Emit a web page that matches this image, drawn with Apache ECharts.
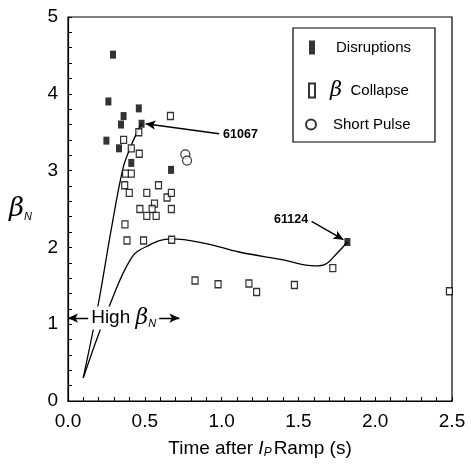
<!DOCTYPE html>
<html>
<head>
<meta charset="utf-8">
<script src="https://cdn.jsdelivr.net/npm/echarts@6/dist/echarts.min.js"></script>
<style>
html,body{margin:0;padding:0;background:#fff;}
#chart{width:471px;height:464px;}
</style>
</head>
<body>
<div id="chart"></div>
<script>
// ---- data ----
const disruptions = [
  [0.293, 4.51], [0.263, 3.90], [0.461, 3.81], [0.362, 3.71], [0.345, 3.60],
  [0.479, 3.61], [0.250, 3.39], [0.332, 3.29], [0.412, 3.10], [0.671, 3.01],
  [1.819, 2.07]
];
const collapse = [
  [0.667, 3.71], [0.461, 3.50], [0.362, 3.40], [0.412, 3.29], [0.464, 3.22],
  [0.375, 2.96], [0.412, 2.96], [0.369, 2.81], [0.399, 2.71], [0.513, 2.71],
  [0.589, 2.81], [0.645, 2.65], [0.673, 2.71], [0.468, 2.50], [0.563, 2.57],
  [0.548, 2.50], [0.513, 2.41], [0.574, 2.41], [0.673, 2.50], [0.371, 2.30],
  [0.384, 2.09], [0.492, 2.09], [0.675, 2.10], [0.827, 1.57], [0.977, 1.52],
  [1.178, 1.53], [1.228, 1.42], [1.474, 1.51], [1.724, 1.73], [2.483, 1.43]
];
const shortPulse = [[0.764, 3.21], [0.775, 3.13]];
const curveA = [
  [0.099, 0.30], [0.196, 1.25], [0.283, 2.25], [0.358, 3.03], [0.412, 3.33],
  [0.455, 3.52], [0.479, 3.61]
];
const curveB = [
  [0.099, 0.30], [0.272, 1.25], [0.412, 1.86], [0.509, 2.01], [0.671, 2.11],
  [0.898, 2.05], [1.113, 1.94], [1.394, 1.84], [1.61, 1.76], [1.674, 1.78],
  [1.75, 1.92], [1.819, 2.07]
];
const xTicks = [0, 0.5, 1.0, 1.5, 2.0, 2.5];
const yTicks = [0, 1, 2, 3, 4, 5];
// annotations: [label, start, end]
const arrow61067 = ['61067', [0.984, 3.48], [0.505, 3.61]];
const arrow61124 = ['61124', [1.586, 2.34], [1.793, 2.10]];
const highBetaSpan = [[0.0, 1.08], [0.725, 1.08]];

const FONT = '"Liberation Sans", Arial, Helvetica, sans-serif';
const chart = echarts.init(document.getElementById('chart'), null, {renderer: 'canvas'});

function arrowLine(a) {
  return [
    {coord: a[1], symbol: 'none',
     label: {show: true, formatter: a[0], position: 'start', distance: 4,
             color: '#000', fontSize: 12.5, fontWeight: 'bold', fontFamily: FONT}},
    {coord: a[2], symbol: 'arrow'}
  ];
}

const option = {
  backgroundColor: '#fff',
  animation: false,
  grid: {left: 68, right: 19, top: 17, bottom: 61, show: true,
         borderColor: '#000', borderWidth: 1.2, backgroundColor: 'transparent'},
  xAxis: {
    type: 'value', min: xTicks[0], max: xTicks[xTicks.length - 1], interval: 0.5,
    axisLine: {show: true, lineStyle: {color: '#000', width: 1.2}},
    axisTick: {show: true, inside: true, length: 4, lineStyle: {color: '#000'}},
    minorTick: {show: true, splitNumber: 5, length: 4, lineStyle: {color: '#000'}},
    splitLine: {show: false},
    axisLabel: {color: '#000', fontSize: 19, fontFamily: FONT, margin: 11,
                formatter: v => v.toFixed(1)},
    name: 'Time after {i|I}{p|P}Ramp (s)',
    nameLocation: 'middle', nameGap: 38,
    nameTextStyle: {color: '#000', fontSize: 19, fontFamily: FONT,
      rich: {
        i: {fontSize: 19, fontStyle: 'italic', fontFamily: FONT, color: '#000'},
        p: {fontSize: 12, fontStyle: 'italic', fontFamily: FONT, color: '#000',
            verticalAlign: 'bottom', padding: [8, 2, 0, 0]}
      }}
  },
  yAxis: {
    type: 'value', min: yTicks[0], max: yTicks[yTicks.length - 1], interval: 1,
    axisLine: {show: true, lineStyle: {color: '#000', width: 1.2}},
    axisTick: {show: true, inside: true, length: 4, lineStyle: {color: '#000'}},
    minorTick: {show: true, splitNumber: 5, length: 4, lineStyle: {color: '#000'}},
    splitLine: {show: false},
    axisLabel: {color: '#000', fontSize: 19, fontFamily: FONT, margin: 10},
    name: '{b|β}{n|N}',
    nameLocation: 'middle', nameRotate: 0, nameGap: 36,
    nameTextStyle: {
      rich: {
        b: {fontSize: 26, fontStyle: 'italic', fontFamily: '"DejaVu Serif", serif', color: '#000'},
        n: {fontSize: 11, fontStyle: 'italic', fontFamily: FONT, color: '#000',
            verticalAlign: 'bottom', padding: [14, 0, 0, 0]}
      }
    }
  },
  legend: [
    {data: ['Disruptions'], left: 309, top: 40, padding: 0, itemWidth: 6, itemHeight: 14,
     textStyle: {color: '#000', fontSize: 15, fontFamily: FONT, padding: [0, 0, 0, 16]}},
    {data: ['β Collapse'], left: 308, top: 80, padding: 0, itemWidth: 6, itemHeight: 14,
     formatter: () => '{b|β}  Collapse',
     textStyle: {color: '#000', fontSize: 15, fontFamily: FONT, padding: [0, 0, 0, 10],
       rich: {b: {fontSize: 21, fontStyle: 'italic', fontFamily: '"DejaVu Serif", serif', color: '#000'}}}},
    {data: ['Short Pulse'], left: 305, top: 117, padding: 0, itemWidth: 10, itemHeight: 10,
     textStyle: {color: '#000', fontSize: 15, fontFamily: FONT, padding: [0, 0, 0, 12]}}
  ],
  graphic: [
    {type: 'rect', shape: {x: 293, y: 28, width: 142, height: 114},
     style: {fill: 'none', stroke: '#000', lineWidth: 1.2}, z: 1}
  ],
  series: [
    {name: 'curveA', type: 'line', data: curveA, smooth: 0.35, showSymbol: false,
     lineStyle: {color: '#000', width: 1.3}, silent: true, z: 1},
    {name: 'curveB', type: 'line', data: curveB, smooth: 0.4, showSymbol: false,
     lineStyle: {color: '#000', width: 1.3}, silent: true, z: 1,
     markLine: {
       silent: true, symbolSize: [7, 10],
       lineStyle: {color: '#000', width: 1.4, type: 'solid'},
       label: {show: false},
       data: [
         arrowLine(arrow61067),
         arrowLine(arrow61124),
         [{coord: highBetaSpan[0], symbol: 'arrow',
           label: {show: true, position: 'insideMiddle', formatter: 'High {b|β}{n|N}',
                   color: '#000', fontSize: 19, fontFamily: FONT,
                   backgroundColor: '#fff', padding: [0, 3, 0, 3],
                   rich: {b: {fontSize: 22, fontStyle: 'italic', fontFamily: '"DejaVu Serif", serif', color: '#000'},
                          n: {fontSize: 11, fontStyle: 'italic', fontFamily: FONT, color: '#000',
                              verticalAlign: 'bottom', padding: [12, 0, 0, 0]}}}},
          {coord: highBetaSpan[1], symbol: 'arrow'}]
       ]
     }},
    {name: 'Disruptions', type: 'scatter', data: disruptions, symbol: 'rect', symbolSize: [6, 8],
     itemStyle: {color: '#000'}, z: 3},
    {name: 'β Collapse', type: 'scatter', data: collapse, symbol: 'rect', symbolSize: [6, 7],
     itemStyle: {color: '#fff', borderColor: '#000', borderWidth: 1.3}, z: 3},
    {name: 'Short Pulse', type: 'scatter', data: shortPulse, symbol: 'circle', symbolSize: 9,
     itemStyle: {color: '#fff', borderColor: '#000', borderWidth: 1.2}, z: 3}
  ]
};
chart.setOption(option);
</script>
</body>
</html>
